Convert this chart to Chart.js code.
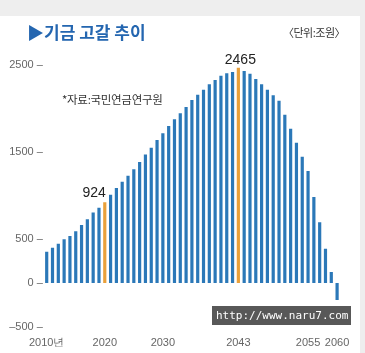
<!DOCTYPE html>
<html>
<head>
<meta charset="utf-8">
<script src="https://cdn.jsdelivr.net/npm/chart.js@4"></script>
<style>
  html, body { margin: 0; padding: 0; }
  body { width: 365px; height: 353px; background: #eeeeee; position: relative; overflow: hidden;
         font-family: "Noto Sans CJK KR", sans-serif; }
  #panel { position: absolute; left: 0; top: 16px; width: 360px; height: 337px; background: #fff; }
  #chartBox { position: absolute; left: 0; top: 0; width: 365px; height: 353px; }
  .title { position: absolute; left: 27px; top: 23px; font-size: 17px; line-height: 1; font-weight: bold; color: #2466b0; white-space: nowrap; }
  .unit { position: absolute; left: 283px; top: 27px; font-size: 11px; line-height: 1; color: #333; letter-spacing: -0.5px; white-space: nowrap; }
  .source { position: absolute; left: 62px; top: 94px; font-size: 11.5px; line-height: 1; color: #333; letter-spacing: -0.3px; white-space: nowrap; }
  .mark { position: absolute; left: 212px; top: 306px; width: 139px; height: 19px; background: rgba(70,70,70,0.9);
          color: #fff; font-family: "DejaVu Sans Mono", monospace; font-size: 11px; line-height: 19px; padding-left: 4px; box-sizing: border-box; white-space: nowrap; }
</style>
</head>
<body>
<div id="panel"></div>
<div id="chartBox"><canvas id="chart"></canvas></div>
<div class="title">▶기금 고갈 추이</div>
<div class="unit">〈단위:조원〉</div>
<div class="source">*자료:국민연금연구원</div>
<div class="mark">http://www.naru7.com</div>

<script>
// 연도별 기금 적립금 (조원)
const years = [2010, 2011, 2012, 2013, 2014, 2015, 2016, 2017, 2018, 2019,
  2020, 2021, 2022, 2023, 2024, 2025, 2026, 2027, 2028, 2029,
  2030, 2031, 2032, 2033, 2034, 2035, 2036, 2037, 2038, 2039,
  2040, 2041, 2042, 2043, 2044, 2045, 2046, 2047, 2048, 2049,
  2050, 2051, 2052, 2053, 2054, 2055, 2056, 2057, 2058, 2059, 2060];
const fund = [358, 404, 450, 500, 538, 592, 664, 729, 809, 862,
  924, 1012, 1088, 1160, 1229, 1302, 1385, 1473, 1549, 1637,
  1714, 1798, 1874, 1943, 2015, 2095, 2156, 2213, 2275, 2324,
  2374, 2401, 2416, 2465, 2427, 2396, 2336, 2275, 2213, 2149,
  2087, 1927, 1767, 1606, 1446, 1282, 985, 695, 393, 126, -195];
const highlightYears = [2020, 2043];
const xTickYears = [2010, 2020, 2030, 2043, 2055, 2060];
const yTickValues = [-500, 0, 500, 1500, 2500];

const BLUE = "#2b78b8";
const ORANGE = "#e9a03a";
const TICK_FONT = { family: '"Liberation Sans Narrow", "Liberation Sans", sans-serif', size: 11 };

// 강조 막대 위 수치
const valueLabels = {
  id: "valueLabels",
  afterDatasetsDraw(chart) {
    const meta = chart.getDatasetMeta(0);
    const ctx = chart.ctx;
    ctx.save();
    ctx.font = '14px "Liberation Sans", Arial, sans-serif';
    ctx.fillStyle = "#222";
    ctx.textBaseline = "bottom";
    highlightYears.forEach((y, k) => {
      const i = years.indexOf(y);
      const bar = meta.data[i];
      if (k === 0) {
        ctx.textAlign = "right";
        ctx.fillText(String(fund[i]), bar.x + 1, bar.y - 2);
      } else {
        ctx.textAlign = "center";
        ctx.fillText(String(fund[i]), bar.x + 2, bar.y - 1);
      }
    });
    ctx.restore();
  }
};

new Chart(document.getElementById("chart"), {
  type: "bar",
  data: {
    labels: years.map(String),
    datasets: [{
      data: fund,
      backgroundColor: years.map(y => highlightYears.includes(y) ? ORANGE : BLUE),
      borderWidth: 0,
      barPercentage: 0.55,
      categoryPercentage: 1
    }]
  },
  options: {
    responsive: true,
    maintainAspectRatio: false,
    animation: false,
    layout: { padding: { left: 0, top: 64.7, right: 25, bottom: 6.3 } },
    plugins: { legend: { display: false }, tooltip: { enabled: false } },
    scales: {
      x: {
        grid: { display: false },
        border: { display: false },
        afterFit: s => { s.height = 20; },
        ticks: {
          autoSkip: false,
          maxRotation: 0,
          padding: 2,
          color: "#666",
          font: TICK_FONT,
          callback: (v, i) => {
            if (!xTickYears.includes(years[i])) return "";
            return i === 0 ? years[i] + "년" : String(years[i]);
          }
        }
      },
      y: {
        min: -500,
        max: 2500,
        grid: { display: false },
        border: { display: false },
        afterFit: s => { s.width = 43.8; },
        afterBuildTicks: s => { s.ticks = yTickValues.map(v => ({ value: v })); },
        ticks: {
          padding: -7,
          color: "#666",
          font: TICK_FONT,
          callback: v => (v < 0 ? "–" + Math.abs(v) : v) + " –"
        }
      }
    }
  },
  plugins: [valueLabels]
});
</script>
</body>
</html>
